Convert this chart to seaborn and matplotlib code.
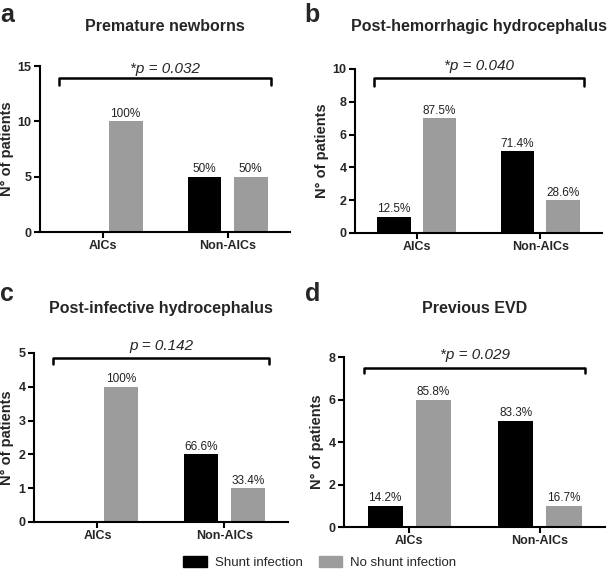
import pandas as pd
import matplotlib.pyplot as plt
import seaborn as sns

groups = ['AICs', 'Non-AICs']
outcomes = ['Shunt infection', 'No shunt infection']
letters = ['a', 'b', 'c', 'd']
titles = ['Premature newborns', 'Post-hemorrhagic hydrocephalus',
          'Post-infective hydrocephalus', 'Previous EVD']
shunt_counts = [[0, 5], [1, 5], [0, 2], [1, 5]]
no_shunt_counts = [[10, 5], [7, 2], [4, 1], [6, 1]]
shunt_pct = [['', '50%'], ['12.5%', '71.4%'], ['', '66.6%'], ['14.2%', '83.3%']]
no_shunt_pct = [['100%', '50%'], ['87.5%', '28.6%'], ['100%', '33.4%'], ['85.8%', '16.7%']]
p_labels = ['*p = 0.032', '*p = 0.040', 'p = 0.142', '*p = 0.029']
y_max = [15, 10, 5, 8]
y_step = [5, 2, 1, 2]

# layout (figure fractions) and bracket / title placement per panel
ax_pos = [[0.0657, 0.5986, 0.4105, 0.2872],
          [0.583, 0.597, 0.4056, 0.2837],
          [0.0558, 0.0969, 0.417, 0.2924],
          [0.5649, 0.0882, 0.4286, 0.2941]]
bracket_y = [0.927, 0.945, 0.97, 0.935]
bracket_tick = [0.04, 0.05, 0.036, 0.03]
ptext_y = [0.98, 1.02, 1.04, 1.01]
title_y = [1.235, 1.256, 1.266, 1.288]
letter_xy = [(0.0, 0.995), (0.5, 0.995), (0.0, 0.512), (0.5, 0.512)]

palette = {'Shunt infection': 'black', 'No shunt infection': '#9c9c9c'}

sns.set_theme(style='ticks')
plt.rcParams['font.family'] = ['Liberation Sans', 'DejaVu Sans']

fig = plt.figure(figsize=(6.09, 5.78), dpi=100)

for i in range(4):
    df = pd.DataFrame({
        'group': groups * 2,
        'outcome': [outcomes[0]] * 2 + [outcomes[1]] * 2,
        'count': shunt_counts[i] + no_shunt_counts[i],
    })
    ax = fig.add_axes(ax_pos[i])
    sns.barplot(data=df, x='group', y='count', hue='outcome', hue_order=outcomes,
                palette=palette, width=0.74, gap=0.27, legend=False, ax=ax,
                edgecolor='none', linewidth=0, saturation=1)
    ax.bar_label(ax.containers[0], labels=shunt_pct[i], fontsize=8.5, padding=1, color='#222222')
    ax.bar_label(ax.containers[1], labels=no_shunt_pct[i], fontsize=8.5, padding=1, color='#222222')

    ax.set_xlim(-0.5, 1.5)
    ax.set_ylim(0, y_max[i])
    ax.set_yticks(range(0, y_max[i] + 1, y_step[i]))
    sns.despine(ax=ax)
    for s in ['left', 'bottom']:
        ax.spines[s].set_linewidth(1.5)
        ax.spines[s].set_color('black')
    ax.tick_params(axis='both', width=1.5, length=4, color='black', pad=2)
    for lab in ax.get_xticklabels() + ax.get_yticklabels():
        lab.set_fontweight('bold')
        lab.set_fontsize(9)
    ax.set_xlabel('')
    ax.set_ylabel('N° of patients', fontsize=10.5, fontweight='bold', labelpad=3)

    # significance bracket
    tr = ax.get_xaxis_transform()
    yb = bracket_y[i]
    ax.plot([-0.35, -0.35, 1.35, 1.35], [yb - bracket_tick[i], yb, yb, yb - bracket_tick[i]],
            color='black', lw=1.8, transform=tr, clip_on=False)
    ax.text(0.5, ptext_y[i], p_labels[i], transform=tr, ha='center', va='center',
            fontsize=11, style='italic')

    ax.text(0.5, title_y[i], titles[i], transform=ax.transAxes, ha='center', va='center',
            fontsize=11.5, fontweight='bold')
    fig.text(letter_xy[i][0], letter_xy[i][1], letters[i], fontsize=18, fontweight='bold',
             ha='left', va='top')

handles = [plt.Rectangle((0, 0), 1, 1, color=palette[o]) for o in outcomes]
fig.legend(handles, outcomes, loc='center', bbox_to_anchor=(0.525, 0.026), ncol=2,
           frameon=False, fontsize=9.5, handlelength=1.8, handleheight=0.9,
           columnspacing=1.2, handletextpad=0.6)

fig.savefig('out.png', dpi=100)
